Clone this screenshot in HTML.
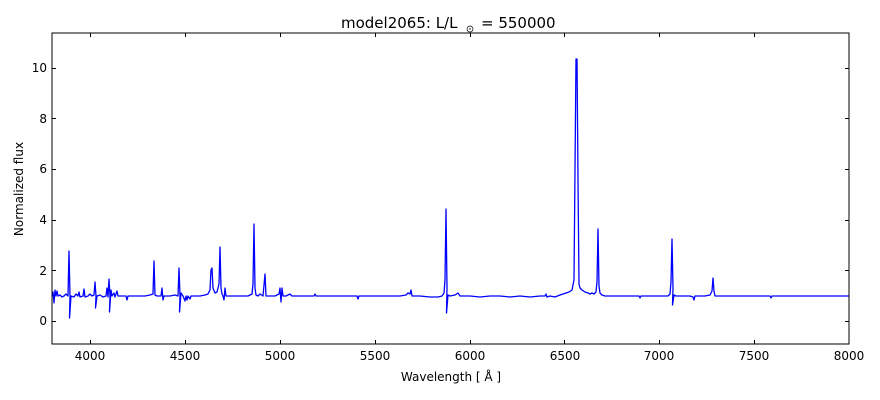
<!DOCTYPE html>
<html><head><meta charset="utf-8"><style>
html,body{margin:0;padding:0;background:#fff;}
svg{display:block;font-family:"DejaVu Sans","Liberation Sans",sans-serif;}
</style></head><body>
<svg width="880" height="400" viewBox="0 0 880 400" xmlns="http://www.w3.org/2000/svg">
<rect width="880" height="400" fill="#fff"/>
<defs><clipPath id="c"><rect x="52" y="33" width="797" height="311"/></clipPath></defs>
<path clip-path="url(#c)" fill="none" stroke="#0000ff" stroke-width="1.3" stroke-linejoin="round" d="
M52,296 L53,292 L54,303 L55,290 L56,296 L57,291 L58,296 L60,295 L62,297 L64,296 L66,294 L68,296
L69,251 L70,296 L69.5,318 L71,296 L74,297 L76,294 L78,296 L79,292 L80,297 L83,296 L84,289 L85,297
L88,296 L90,294 L92,296 L94,295 L95,282 L96,296 L95.5,308 L97,296 L100,295 L103,297 L106,296
L107,288 L108,297 L109,279 L110,296 L109.5,312 L111,290 L112,296 L114,293 L115,297 L117,291 L118,296
L122,296 L126,296 L127,300 L128,296 L135,296 L140,296 L145,296 L150,295 L153,294 L154,261 L155,295
L157,296 L161,296 L162,288 L163,300 L164,296 L170,296 L175,295 L178,296 L179,268 L180,296 L179.5,312
L181,293 L183,296 L185,301 L186,296 L187,300 L188,296 L190,299 L191,296 L195,296 L200,296 L205,295
L208,294 L210,290 L211,270 L212,268 L213,288 L215,293 L217,292 L219,284 L220,247 L221,288
L222,294 L223,296 L224,300 L225,288 L226,296 L230,296 L240,296 L248,296 L252,294 L253,284 L254,224
L255,288 L256,295 L258,296 L260,294 L263,296 L265,274 L266,296 L268,296 L275,296 L279,294 L280,288
L281,302 L282,288 L283,296 L286,296 L290,294 L292,296 L300,296 L310,296 L314,296 L315,294 L316,296
L330,296 L340,296 L350,296 L357,296 L358,299 L359,296 L370,296 L380,296 L390,296 L400,296 L406,295
L408,293 L410,294 L411,290 L412,296 L420,296 L430,297 L438,297 L442,296 L444,293 L445,280 L446,209
L447,288 L446.5,313 L448,295 L450,296 L455,295 L458,293 L460,296 L470,296 L480,297 L490,296 L500,296
L510,297 L520,296 L530,297 L540,296 L545,296 L546,294 L547,297 L550,296 L555,297 L560,295 L563,294
L566,293 L569,292 L572,290 L574,280 L575,170 L576,59 L577,59 L578,180 L579,284 L580,288
L582,290 L585,292 L588,293 L590,294 L592,293 L594,294 L596,292 L597,282 L598,229 L599,286
L600,293 L602,295 L605,296 L610,296 L620,296 L630,296 L639,296 L640,298 L641,296 L650,296 L660,296
L668,296 L670,294 L671,282 L672,239 L673,288 L672.5,305 L674,295 L676,296 L680,296 L690,296 L693,297
L694,300 L695,296 L705,296 L710,295 L712,291 L713,278 L714,291 L715,296 L730,296 L750,296 L770,296
L771,298 L772,296 L790,296 L810,296 L830,296 L849,296"/>
<rect x="52" y="33" width="797" height="311" fill="none" stroke="#000" stroke-width="1"/>
<g stroke="#000" stroke-width="1">
<path d="M90.5,344v-4M90.5,33v4M185.5,344v-4M185.5,33v4M280.5,344v-4M280.5,33v4M375.5,344v-4M375.5,33v4M470.5,344v-4M470.5,33v4M564.5,344v-4M564.5,33v4M659.5,344v-4M659.5,33v4M754.5,344v-4M754.5,33v4"/>
<path d="M52,321.5h4M849,321.5h-4M52,270.5h4M849,270.5h-4M52,220.5h4M849,220.5h-4M52,169.5h4M849,169.5h-4M52,118.5h4M849,118.5h-4M52,68.5h4M849,68.5h-4"/>
</g>
<g font-size="12" fill="#000" text-anchor="middle">
<text x="90" y="360">4000</text><text x="185" y="360">4500</text><text x="280" y="360">5000</text>
<text x="375" y="360">5500</text><text x="470" y="360">6000</text><text x="565" y="360">6500</text>
<text x="659" y="360">7000</text><text x="754" y="360">7500</text><text x="849" y="360">8000</text>
</g>
<g font-size="12" fill="#000" text-anchor="end">
<text x="47" y="325">0</text><text x="47" y="275">2</text><text x="47" y="224">4</text>
<text x="47" y="173">6</text><text x="47" y="123">8</text><text x="47" y="72">10</text>
</g>
<text x="451" y="381" font-size="12" text-anchor="middle">Wavelength [ Å ]</text>
<text transform="translate(23,189) rotate(-90)" font-size="12" text-anchor="middle">Normalized flux</text>
<text x="341" y="28" font-size="15">model2065: L/L</text>
<circle cx="470" cy="29" r="3" fill="none" stroke="#000" stroke-width="0.7"/><circle cx="470" cy="29" r="0.7" fill="#000"/>
<text x="481" y="28" font-size="15">= 550000</text>
</svg>
</body></html>
